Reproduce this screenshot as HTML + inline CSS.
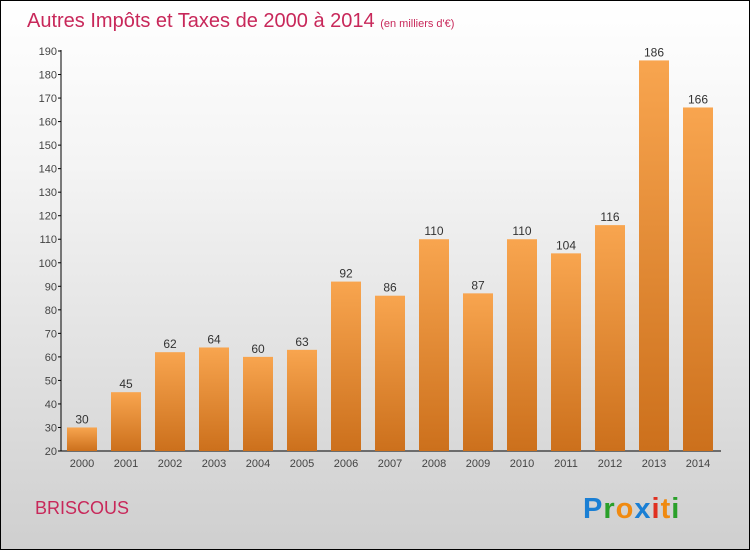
<!DOCTYPE html>
<html><head><meta charset="utf-8"><style>
body{margin:0}
#c{width:748px;height:548px;border:1px solid #000;background:linear-gradient(#fff,#f4f4f4 30%,#cfcfcf);position:relative;font-family:"Liberation Sans",sans-serif}
</style></head><body>
<div id="c">
<svg id="s" width="748" height="548">
<defs><linearGradient id="g" x1="0" y1="0" x2="0" y2="1"><stop offset="0" stop-color="#f8a54f"/><stop offset="1" stop-color="#cc701c"/></linearGradient></defs>
<text x="26" y="26" font-size="20" fill="#c8285a">Autres Impôts et Taxes de 2000 à 2014 <tspan font-size="11">(en milliers d'€)</tspan></text>
<text x="34" y="513" font-size="18" fill="#c8285a">BRISCOUS</text>
<text x="582" y="517" font-size="29" font-weight="bold" letter-spacing="1"><tspan fill="#1a7fd4">P</tspan><tspan fill="#2aa02a">r</tspan><tspan fill="#f08a10">o</tspan><tspan fill="#1a7fd4">x</tspan><tspan fill="#e03020">i</tspan><tspan fill="#f08a10">t</tspan><tspan fill="#2aa02a">i</tspan></text>
<g id="plot"></g>
</svg></div>
<script>
const years=["2000","2001","2002","2003","2004","2005","2006","2007","2008","2009","2010","2011","2012","2013","2014"];
const values=[30,45,62,64,60,63,92,86,110,87,110,104,116,186,166];
const yTicks=[20,30,40,50,60,70,80,90,100,110,120,130,140,150,160,170,180,190];
const ns="http://www.w3.org/2000/svg",p=document.getElementById('plot');
const y=v=>450-(v-20)*(400/170);
const x=i=>81+i*44;
function mk(t,a,txt){const e=document.createElementNS(ns,t);for(const k in a)e.setAttribute(k,a[k]);if(txt!=null)e.textContent=txt;p.appendChild(e);return e;}
let e=mk('line',{x1:60,y1:49,x2:60,y2:450,stroke:'#000'});


e=mk('line',{x1:60,y1:450,x2:720,y2:450,stroke:'#000'});


yTicks.forEach(t=>{
 e=mk('line',{x1:57,x2:60,y1:y(t),y2:y(t),stroke:'#000'});
 
 
 e=mk('text',{x:56,y:y(t)+4,'font-size':11,fill:'#444','text-anchor':'end'},t);
 
 
});
years.forEach((yr,i)=>{
 const v=values[i];
 e=mk('rect',{x:x(i)-15,y:y(v),width:30,height:450-y(v),fill:'url(#g)'});
 
 
 e=mk('text',{x:x(i),y:y(v)-4,'font-size':12,fill:'#333','text-anchor':'middle'},v);
 
 
 e=mk('text',{x:x(i),y:466,'font-size':11,fill:'#444','text-anchor':'middle'},yr);
 
 
});
</script>
</body></html>
